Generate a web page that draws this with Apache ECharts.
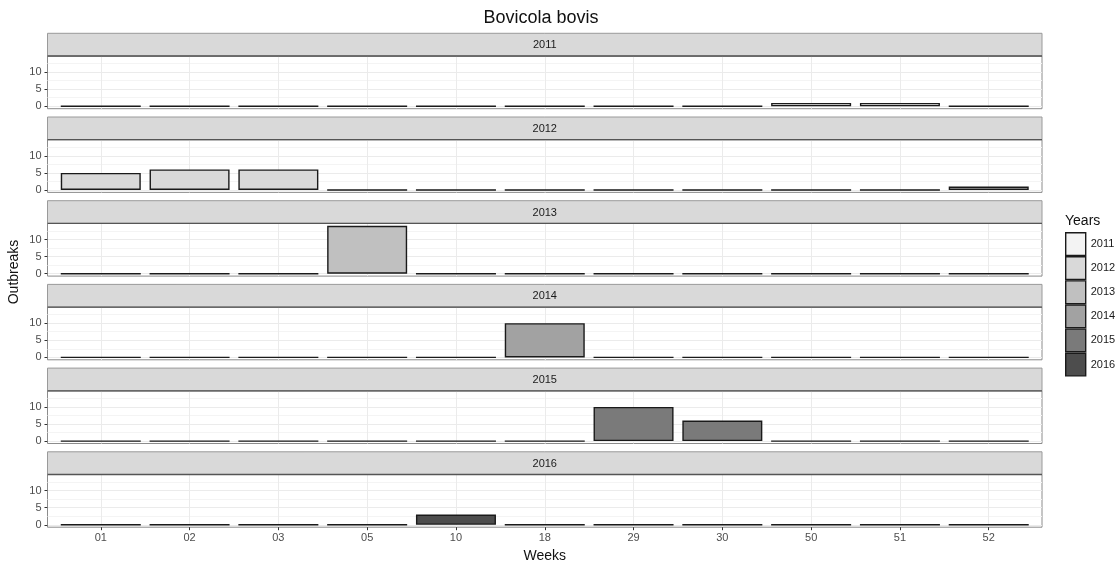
<!DOCTYPE html>
<html><head><meta charset="utf-8">
<script src="https://cdn.jsdelivr.net/npm/echarts@6/dist/echarts.min.js"></script>
<style>html,body{margin:0;padding:0;background:#fff}#c{width:1120px;height:565px}</style>
</head><body><div id="c"></div>
<script>
// ---- data ----
const weeks = ['01','02','03','05','10','18','29','30','50','51','52'];
const years = ['2011','2012','2013','2014','2015','2016'];
const v2011 = [0,0,0,0,0,0,0,0,1,1,0];
const v2012 = [5,6,6,0,0,0,0,0,0,0,1];
const v2013 = [0,0,0,14,0,0,0,0,0,0,0];
const v2014 = [0,0,0,0,0,10,0,0,0,0,0];
const v2015 = [0,0,0,0,0,0,10,6,0,0,0];
const v2016 = [0,0,0,0,3,0,0,0,0,0,0];
const yTicks = [0,5,10];
const yMinor = [2.5,7.5,12.5];
const titleText = 'Bovicola bovis';
const xTitle = 'Weeks';
const yTitle = 'Outbreaks';
const legendTitle = 'Years';

// ---- styles / layout ----
const fills = ['#f3f3f3','#d9d9d9','#c0c0c0','#a2a2a2','#7a7a7a','#4d4d4d'];
const values = [v2011, v2012, v2013, v2014, v2015, v2016];
const L = 47.5, R = 1042, top0 = 33.3, step = 83.7, stripH = 22.7, panelH = 52.7;
const FONT = '"Liberation Sans", Arial, sans-serif';
const idx = weeks.map((w, i) => i);

const grids = [], xAxes = [], yAxes = [], series = [], graphics = [];
years.forEach((yr, i) => {
  const st = top0 + step * i;
  const last = i === years.length - 1;
  grids.push({left: L, width: R - L, top: st + stripH, height: panelH,
    show: true, borderColor: '#8c8c8c', borderWidth: 1, backgroundColor: '#fff'});
  xAxes.push({gridIndex: i, type: 'value', min: -0.6, max: 10.6, position: 'bottom',
    axisLine: {show: false, onZero: false},
    axisTick: {show: last, customValues: idx, length: 3, lineStyle: {color: '#333', width: 1}},
    axisLabel: {show: last, customValues: idx, formatter: v => weeks[Math.round(v)],
      color: '#4d4d4d', fontSize: 11, fontFamily: FONT, margin: 5},
    splitLine: {show: true, lineStyle: {color: '#ebebeb', width: 1}}});
  yAxes.push({gridIndex: i, type: 'value', min: -0.7, max: 14.7, position: 'left',
    axisLine: {show: false, onZero: false},
    axisTick: {show: true, customValues: yTicks, length: 3, lineStyle: {color: '#333', width: 1}},
    axisLabel: {customValues: yTicks, color: '#4d4d4d', fontSize: 11, fontFamily: FONT, margin: 6},
    splitLine: {show: true, lineStyle: {color: '#ebebeb', width: 1}}});
  yAxes.push({gridIndex: i, type: 'value', min: -0.7, max: 14.7, position: 'left',
    axisLine: {show: false, onZero: false},
    axisTick: {show: false, customValues: yMinor},
    axisLabel: {show: false},
    splitLine: {show: true, lineStyle: {color: '#f4f4f4', width: 1}}});
  series.push({type: 'bar', name: yr, xAxisIndex: i, yAxisIndex: 2 * i,
    data: values[i].map((v, j) => [j, v]), barWidth: 80,
    itemStyle: {color: fills[i], borderColor: '#1a1a1a', borderWidth: 1.4},
    silent: true});
  graphics.push({type: 'rect', shape: {x: L, y: st, width: R - L, height: stripH},
    style: {fill: '#d9d9d9', stroke: '#9a9a9a', lineWidth: 1}, z: 10});
  graphics.push({type: 'line', shape: {x1: L, y1: st + stripH, x2: R, y2: st + stripH},
    style: {stroke: '#555', lineWidth: 1.3}, z: 11});
  graphics.push({type: 'text', x: (L + R) / 2, y: st + stripH / 2 + 0.5,
    style: {text: yr, align: 'center', verticalAlign: 'middle', fill: '#1a1a1a',
      font: '11px ' + FONT}, z: 12});
});

graphics.push({type: 'text', x: 541, y: 18, style: {text: titleText, align: 'center',
  verticalAlign: 'middle', fill: '#111', font: '18px ' + FONT}});
graphics.push({type: 'text', x: (L + R) / 2, y: 556, style: {text: xTitle, align: 'center',
  verticalAlign: 'middle', fill: '#111', font: '14px ' + FONT}});
graphics.push({type: 'text', x: 14, y: 272, rotation: Math.PI / 2, style: {text: yTitle,
  align: 'center', verticalAlign: 'middle', fill: '#111', font: '14px ' + FONT}});
graphics.push({type: 'text', x: 1065, y: 221, style: {text: legendTitle, align: 'left',
  verticalAlign: 'middle', fill: '#111', font: '14px ' + FONT}});

const chart = echarts.init(document.getElementById('c'));
chart.setOption({
  animation: false,
  backgroundColor: '#fff',
  grid: grids, xAxis: xAxes, yAxis: yAxes, series: series,
  legend: {orient: 'vertical', left: 1060, top: 227, itemWidth: 20, itemHeight: 22.7,
    itemGap: 0, icon: 'rect', data: years, selectedMode: false,
    itemStyle: {borderColor: '#1a1a1a', borderWidth: 1.4},
    textStyle: {fontSize: 11, color: '#1a1a1a', fontFamily: FONT}},
  graphic: graphics
});
</script></body></html>
